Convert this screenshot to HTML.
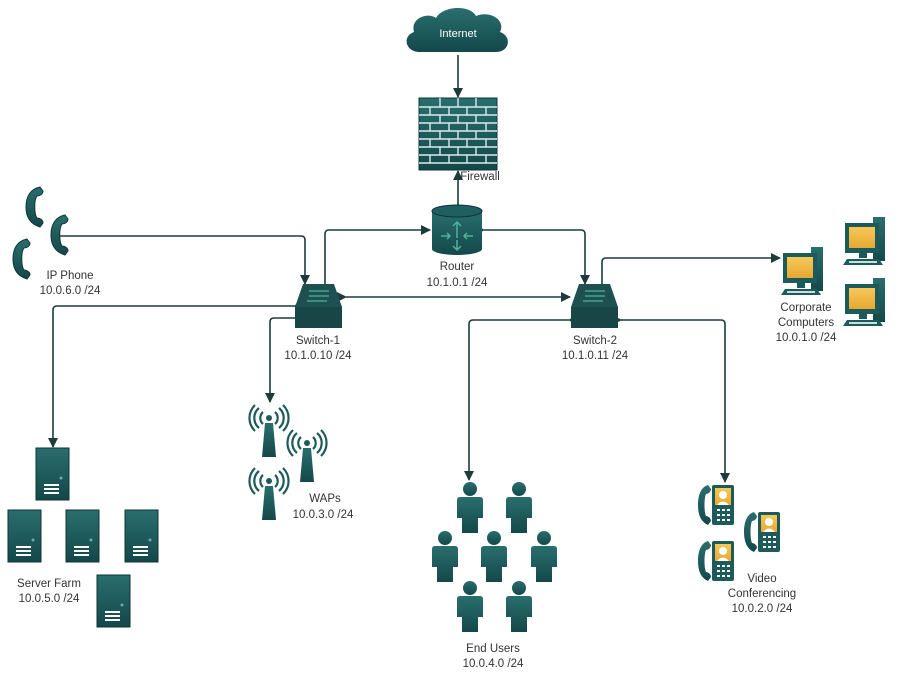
<!DOCTYPE html>
<html><head><meta charset="utf-8"><style>
html,body{margin:0;padding:0;background:#fff;}
svg{display:block;}
text{font-family:"Liberation Sans",sans-serif;font-size:11.5px;fill:#333;text-anchor:middle;}
</style></head><body>
<svg width="902" height="677" viewBox="0 0 902 677" xmlns="http://www.w3.org/2000/svg">
<defs>
<marker id="a" markerWidth="10" markerHeight="10" refX="9" refY="5" orient="auto" markerUnits="userSpaceOnUse">
<path d="M0,0 L10,5 L0,10 Z" fill="#1d3b3b"/></marker>
<linearGradient id="tg" x1="0" y1="0" x2="0" y2="1"><stop offset="0" stop-color="#2a6e6e"/><stop offset="1" stop-color="#14484a"/></linearGradient>
<linearGradient id="yg" x1="0" y1="0" x2="0" y2="1"><stop offset="0" stop-color="#f5c85a"/><stop offset="1" stop-color="#e8a832"/></linearGradient>
<g id="srv"><rect x="0" y="0" width="33" height="52" fill="url(#tg)" stroke="#0f3535"/><circle cx="25" cy="30" r="1.5" fill="#6ab"/><rect x="8" y="36" width="15" height="2" fill="#fff"/><rect x="8" y="40" width="15" height="2" fill="#fff"/><rect x="8" y="44" width="15" height="2" fill="#fff"/></g>
<g id="hs"><path d="M14,0 C4,2 0,10 0,20 C0,30 4,37 14,40 L17,36 C17,33 14,31 11,31 C8,27 8,13 11,9 C14,9 17,7 17,4 Z" fill="url(#tg)" stroke="#0f3535"/></g>
<g id="wap"><path d="M13,18 L10,52 L24,52 L21,18 Z" fill="url(#tg)"/><circle cx="17" cy="13" r="3" fill="#1d5a5a"/>
<path d="M11,7 A8,8 0 0 0 11,19 M23,7 A8,8 0 0 1 23,19 M7,3 A13,13 0 0 0 7,23 M27,3 A13,13 0 0 1 27,23 M3,0 A18,18 0 0 0 3,26 M31,0 A18,18 0 0 1 31,26" stroke="#1d5a5a" stroke-width="2.2" fill="none"/></g>
<g id="per"><circle cx="13" cy="7" r="7" fill="url(#tg)"/><path d="M3,15 L23,15 Q26,15 26,18 L26,36 L21,36 L21,51 L5,51 L5,36 L0,36 L0,18 Q0,15 3,15 Z" fill="url(#tg)"/></g>
<g id="pc"><rect x="28" y="-6" width="12" height="44" fill="url(#tg)"/><rect x="0" y="0" width="34" height="30" fill="#1d5a5a"/><rect x="4" y="4" width="26" height="21" fill="url(#yg)"/><rect x="14" y="30" width="8" height="5" fill="#1d5a5a"/><path d="M2,36 L34,36 L38,42 L-2,42 Z" fill="#1d5a5a"/><rect x="4" y="38" width="28" height="2" fill="#cdd"/></g>
<g id="vp"><path d="M10,0 C3,2 0,10 0,20 C0,30 3,37 10,40 L13,36 C13,33 10,31 8,31 C6,27 6,13 8,9 C10,9 13,7 13,4 Z" fill="url(#tg)"/><rect x="14" y="0" width="22" height="40" rx="2" fill="#1d5a5a"/><rect x="17" y="3" width="16" height="17" fill="url(#yg)"/><circle cx="25" cy="10" r="4" fill="#fff"/><path d="M19,20 Q25,13 31,20 Z" fill="#fff"/><g fill="#fff"><rect x="19" y="24" width="3" height="2"/><rect x="24" y="24" width="3" height="2"/><rect x="29" y="24" width="3" height="2"/><rect x="19" y="29" width="3" height="2"/><rect x="24" y="29" width="3" height="2"/><rect x="29" y="29" width="3" height="2"/><rect x="19" y="34" width="3" height="2"/><rect x="24" y="34" width="3" height="2"/><rect x="29" y="34" width="3" height="2"/></g></g>
<g id="sw"><path d="M8,0 L39,0 L47,23 L0,23 Z" fill="#1d5050"/><rect x="0" y="23" width="47" height="21" fill="#184545"/><g stroke="#4fb39a" stroke-width="1.3" fill="none"><path d="M14,7 L34,7 M14,12 L34,12 M12,17 L32,17"/></g></g>
</defs>

<!-- connectors -->
<g stroke="#1d3b3b" stroke-width="1.6" fill="none">
<line x1="458" y1="55" x2="458" y2="97" marker-end="url(#a)"/>
<line x1="458" y1="205" x2="458" y2="171" marker-end="url(#a)"/>
<path d="M325,284 L325,234 Q325,230 329,230 L430,230" marker-start="url(#a)" marker-end="url(#a)"/>
<path d="M484,230 L581,230 Q585,230 585,234 L585,284" marker-start="url(#a)" marker-end="url(#a)"/>
<path d="M61,236 L301,236 Q305,236 305,240 L305,284" marker-start="url(#a)" marker-end="url(#a)"/>
<line x1="346" y1="297" x2="570" y2="297" marker-start="url(#a)" marker-end="url(#a)"/>
<path d="M294,306 L57,306 Q53,306 53,310 L53,447" marker-start="url(#a)" marker-end="url(#a)"/>
<path d="M294,318 L274,318 Q270,318 270,322 L270,402" marker-start="url(#a)" marker-end="url(#a)"/>
<path d="M602,284 L602,262 Q602,258 606,258 L780,258" marker-start="url(#a)" marker-end="url(#a)"/>
<path d="M569,320 L473,320 Q469,320 469,324 L469,480" marker-start="url(#a)" marker-end="url(#a)"/>
<path d="M621,320 L721,320 Q725,320 725,324 L725,482" marker-start="url(#a)" marker-end="url(#a)"/>
</g>

<!-- cloud -->
<path d="M420,52 C405,52 402,36 414,32 C410,18 428,12 436,18 C442,6 470,4 476,16 C490,10 506,20 500,32 C512,36 510,52 496,52 Z" fill="url(#tg)"/>
<text x="458" y="37" style="fill:#fff;font-size:11px">Internet</text>

<!-- firewall -->
<rect x="419" y="98" width="78" height="72" fill="url(#tg)" stroke="#0f3535"/>
<g stroke="#d8ecec" stroke-width="1.4">
<path d="M419,107 H497 M419,115 H497 M419,123 H497 M419,131 H497 M419,139 H497 M419,147 H497 M419,155 H497 M419,163 H497"/>
<path d="M440,98V107 M458,98V107 M476,98V107 M430,107V115 M449,107V115 M467,107V115 M486,107V115 M440,115V123 M458,115V123 M476,115V123 M430,123V131 M449,123V131 M467,123V131 M486,123V131 M440,131V139 M458,131V139 M476,131V139 M430,139V147 M449,139V147 M467,139V147 M486,139V147 M440,147V155 M458,147V155 M476,147V155 M430,155V163 M449,155V163 M467,155V163 M486,155V163"/>
</g>
<text x="480" y="180">Firewall</text>

<!-- router -->
<path d="M432,211 L432,249 A25,6 0 0 0 482,249 L482,211 Z" fill="url(#tg)"/>
<ellipse cx="457" cy="211" rx="25" ry="6" fill="#1f5f5f" stroke="#0f3535"/>
<g stroke="#4fb39a" stroke-width="1.5" fill="none"><path d="M457,238 V222 M453,226 L457,222 L461,226 M457,240 V250 M453,246 L457,250 L461,246 M441,236 H450 M447,233 L450,236 L447,239 M473,236 H464 M467,233 L464,236 L467,239"/></g>
<text x="457" y="270">Router</text><text x="457" y="286">10.1.0.1 /24</text>

<use href="#sw" x="295" y="284"/>
<text x="318" y="344">Switch-1</text><text x="318" y="359">10.1.0.10 /24</text>
<use href="#sw" x="571" y="284"/>
<text x="595" y="344">Switch-2</text><text x="595" y="359">10.1.0.11 /24</text>

<!-- IP phones -->
<use href="#hs" x="26" y="187"/><use href="#hs" x="51" y="215"/><use href="#hs" x="13" y="239"/>
<text x="70" y="279">IP Phone</text><text x="70" y="294">10.0.6.0 /24</text>

<!-- servers -->
<use href="#srv" x="36" y="448"/><use href="#srv" x="8" y="510"/><use href="#srv" x="66" y="510"/><use href="#srv" x="125" y="510"/><use href="#srv" x="97" y="575"/>
<text x="49" y="587">Server Farm</text><text x="49" y="602">10.0.5.0 /24</text>

<!-- WAPs -->
<use href="#wap" x="252" y="405"/><use href="#wap" x="290" y="430"/><use href="#wap" x="252" y="468"/>
<text x="325" y="502">WAPs</text><text x="323" y="518">10.0.3.0 /24</text>

<!-- users -->
<use href="#per" x="457" y="482"/><use href="#per" x="506" y="482"/>
<use href="#per" x="432" y="531"/><use href="#per" x="481" y="531"/><use href="#per" x="531" y="531"/>
<use href="#per" x="457" y="581"/><use href="#per" x="506" y="581"/>
<text x="493" y="652">End Users</text><text x="493" y="667">10.0.4.0 /24</text>

<!-- computers -->
<use href="#pc" x="783" y="253"/><use href="#pc" x="845" y="223"/><use href="#pc" x="845" y="284"/>
<text x="806" y="311">Corporate</text><text x="806" y="326">Computers</text><text x="806" y="341">10.0.1.0 /24</text>

<!-- video -->
<use href="#vp" x="698" y="485"/><use href="#vp" x="744" y="512"/><use href="#vp" x="698" y="541"/>
<text x="762" y="582">Video</text><text x="762" y="597">Conferencing</text><text x="762" y="612">10.0.2.0 /24</text>
</svg>
</body></html>
